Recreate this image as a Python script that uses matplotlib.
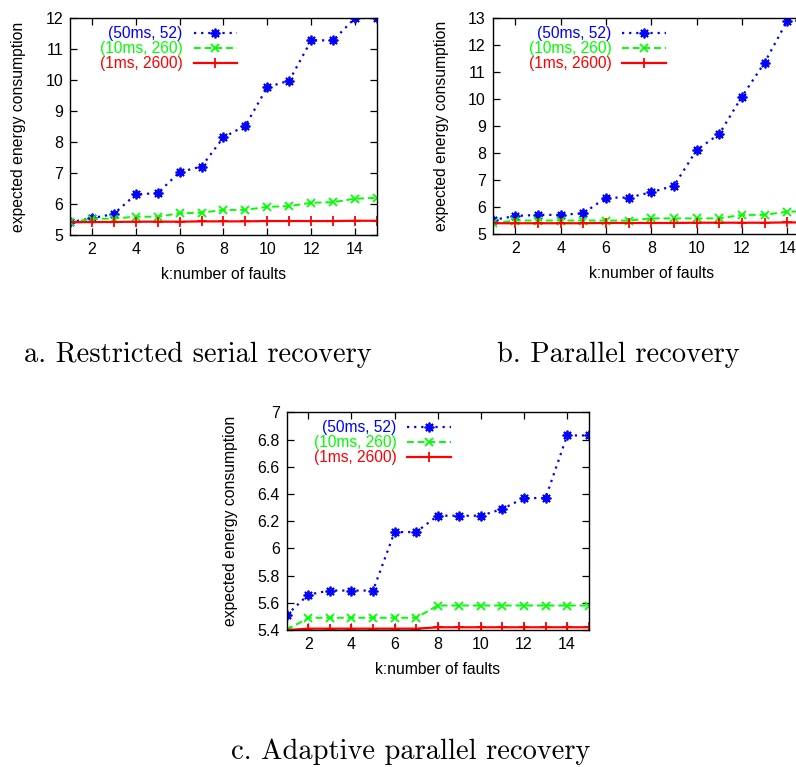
import matplotlib
matplotlib.use("Agg")
import matplotlib.pyplot as plt

# k values shared by all three panels
k = list(range(1, 16))

# Series labels
labels = ["(50ms, 52)", "(10ms, 260)", "(1ms, 2600)"]

# a. Restricted serial recovery
serial_50 = [5.41, 5.54, 5.68, 6.31, 6.35, 7.03, 7.21, 8.15, 8.53, 9.77, 9.98, 11.28, 11.28, 12.0, 12.0]
serial_10 = [5.41, 5.52, 5.53, 5.59, 5.59, 5.70, 5.72, 5.81, 5.81, 5.91, 5.93, 6.04, 6.06, 6.17, 6.20]
serial_1 = [5.41, 5.42, 5.42, 5.43, 5.43, 5.43, 5.44, 5.44, 5.44, 5.45, 5.45, 5.45, 5.45, 5.46, 5.46]

# b. Parallel recovery
parallel_50 = [5.53, 5.68, 5.72, 5.72, 5.78, 6.36, 6.36, 6.56, 6.80, 8.12, 8.72, 10.1, 11.36, 12.91, 12.91]
parallel_10 = [5.41, 5.51, 5.51, 5.51, 5.51, 5.51, 5.51, 5.59, 5.59, 5.59, 5.59, 5.72, 5.72, 5.84, 5.85]
parallel_1 = [5.41, 5.41, 5.41, 5.41, 5.41, 5.42, 5.42, 5.42, 5.42, 5.43, 5.43, 5.43, 5.43, 5.44, 5.44]

# c. Adaptive parallel recovery
adaptive_50 = [5.51, 5.66, 5.69, 5.69, 5.69, 6.12, 6.12, 6.24, 6.24, 6.24, 6.29, 6.37, 6.37, 6.83, 6.83]
adaptive_10 = [5.40, 5.49, 5.49, 5.49, 5.49, 5.49, 5.49, 5.58, 5.58, 5.58, 5.58, 5.58, 5.58, 5.58, 5.58]
adaptive_1 = [5.40, 5.41, 5.41, 5.41, 5.41, 5.41, 5.41, 5.42, 5.42, 5.42, 5.42, 5.42, 5.42, 5.42, 5.42]

# Tick settings per panel
yticks_a = list(range(5, 13))
yticks_b = list(range(5, 14))
yticks_c = [5.4, 5.6, 5.8, 6.0, 6.2, 6.4, 6.6, 6.8, 7.0]
xticks = list(range(2, 16, 2))

captions = ["a. Restricted serial recovery", "b. Parallel recovery", "c. Adaptive parallel recovery"]

plt.rcParams['font.family'] = ['Liberation Sans', 'DejaVu Sans']


def draw_panel(ax, y50, y10, y1, yticks):
    # blue dotted asterisks, green dashed crosses, red solid plus
    ax.plot(k, y50, color=(0, 0, 1), linestyle=(0, (1, 2.2)), linewidth=1.6,
            marker=(8, 2, 0), markersize=7, markeredgewidth=1.3, label=labels[0])
    ax.plot(k, y10, color=(0, 1, 0), linestyle=(0, (3.5, 2)), linewidth=1.4,
            marker='x', markersize=6, markeredgewidth=1.3, label=labels[1])
    ax.plot(k, y1, color=(1, 0, 0), linestyle='-', linewidth=1.6,
            marker='+', markersize=7, markeredgewidth=1.3, label=labels[2])

    ax.set_xlim(1, 15)
    ax.set_ylim(yticks[0], yticks[-1])
    ax.set_xticks(xticks)
    ax.set_yticks(yticks)
    ax.set_yticklabels(['%g' % t for t in yticks])
    ax.tick_params(direction='in', top=True, right=True, length=5, width=0.9,
                   labelsize=11.5, pad=5)
    for s in ax.spines.values():
        s.set_linewidth(1.0)

    ax.set_xlabel("k:number of faults", fontsize=11.3, labelpad=7)
    ax.set_ylabel("expected energy consumption", fontsize=11.3, labelpad=14)

    leg = ax.legend(loc='upper right', bbox_to_anchor=(0.585, 1.02), frameon=False,
                    markerfirst=False, fontsize=11.2, handlelength=2.8,
                    handletextpad=0.7, labelspacing=0.0, borderpad=0.3)
    for text, line in zip(leg.get_texts(), leg.get_lines()):
        text.set_color(line.get_color())


fig = plt.figure(figsize=(7.96, 7.67), dpi=100)

ax_a = fig.add_axes([0.0879, 0.6936, 0.3857, 0.2829])
ax_b = fig.add_axes([0.6190, 0.6945, 0.3985, 0.2816])
ax_c = fig.add_axes([0.3602, 0.1786, 0.3794, 0.2838])

draw_panel(ax_a, serial_50, serial_10, serial_1, yticks_a)
draw_panel(ax_b, parallel_50, parallel_10, parallel_1, yticks_b)
draw_panel(ax_c, adaptive_50, adaptive_10, adaptive_1, yticks_c)

# Captions in a LaTeX-like serif font
fig.text(0.248, 1 - 355 / 767, captions[0], fontsize=20.5, family='cmr10', ha='center', va='center')
fig.text(0.777, 1 - 355 / 767, captions[1], fontsize=20.5, family='cmr10', ha='center', va='center')
fig.text(0.516, 1 - 752 / 767, captions[2], fontsize=20.5, family='cmr10', ha='center', va='center')

fig.savefig("out.png", dpi=100)
